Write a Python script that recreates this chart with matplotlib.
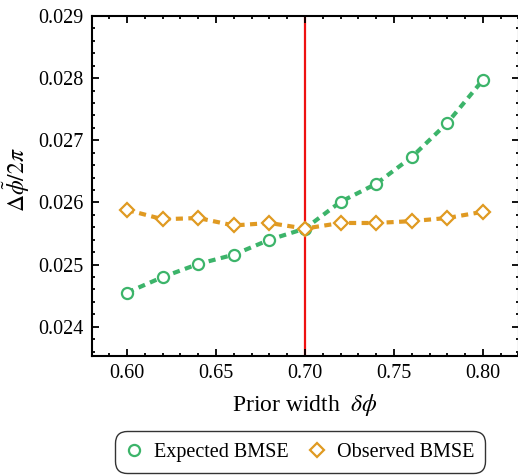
import matplotlib
matplotlib.use("Agg")
import matplotlib.pyplot as plt
from matplotlib.ticker import MultipleLocator

plt.rcParams['font.family'] = ['Liberation Serif', 'DejaVu Serif']
plt.rcParams['mathtext.fontset'] = 'stix'

# prior width values
widths = [0.60, 0.62, 0.64, 0.66, 0.68, 0.70, 0.72, 0.74, 0.76, 0.78, 0.80]
# expected BMSE (green circles)
expected = [0.02455, 0.02480, 0.02501, 0.02516, 0.02540, 0.02558,
            0.02601, 0.02630, 0.02673, 0.02728, 0.02797]
# observed BMSE (orange diamonds)
observed = [0.02588, 0.02573, 0.02575, 0.02563, 0.02567, 0.02558,
            0.02567, 0.02567, 0.02570, 0.02575, 0.02585]
best_width = 0.70

green = '#3cb46a'
orange = '#e09a22'

fig = plt.figure(figsize=(5.18, 4.76), dpi=100)
ax = fig.add_axes([92/518, 1 - 356/476, 427/518, 340/476])

ax.axvline(best_width, color='#ee1111', lw=1.6, zorder=1)

ax.plot(widths, expected, color=green, lw=3, dashes=[1.7, 1.3],
        marker='o', ms=8, mfc='white', mec=green, mew=1.6,
        label='Expected BMSE', zorder=3)
ax.plot(widths, observed, color=orange, lw=3, dashes=[1.7, 1.3],
        marker='D', ms=7, mfc='white', mec=orange, mew=1.6,
        label='Observed BMSE', zorder=3)

ax.set_xlim(0.5803, 0.8203)
ax.set_ylim(0.02353, 0.029)
ax.xaxis.set_major_locator(MultipleLocator(0.05))
ax.xaxis.set_minor_locator(MultipleLocator(0.01))
ax.yaxis.set_major_locator(MultipleLocator(0.001))
ax.yaxis.set_minor_locator(MultipleLocator(0.0002))
ax.xaxis.set_major_formatter(plt.FuncFormatter(lambda v, p: f'{v:.2f}'))
ax.yaxis.set_major_formatter(plt.FuncFormatter(lambda v, p: f'{v:.3f}'))

ax.tick_params(which='both', direction='in', top=True, right=True,
               labelsize=14.5, width=1.3)
ax.tick_params(which='major', length=5, pad=6)
ax.tick_params(which='minor', length=2.5)
for s in ax.spines.values():
    s.set_linewidth(1.5)

ax.set_xlabel(r'Prior width  $\delta\phi$', fontsize=17)
ax.xaxis.set_label_coords(0.499, -0.105)
ax.set_ylabel(r'$\Delta\tilde{\phi}/2\pi$', fontsize=17)
ax.yaxis.set_label_coords(-0.14, 0.52)

fig.legend(loc='center', bbox_to_anchor=(300/518, 1 - 452/476), ncol=2,
           fontsize=14.5, frameon=True, fancybox=True, edgecolor='black',
           handlelength=0.8, columnspacing=1.0, handletextpad=0.6,
           borderpad=0.55)
leg = fig.legends[0]
for h in leg.legend_handles:
    h.set_linestyle('none')
leg.get_frame().set_linewidth(1.0)
leg.get_frame().set_boxstyle('round', pad=0, rounding_size=0.6)

fig.savefig('out.png', dpi=100)
